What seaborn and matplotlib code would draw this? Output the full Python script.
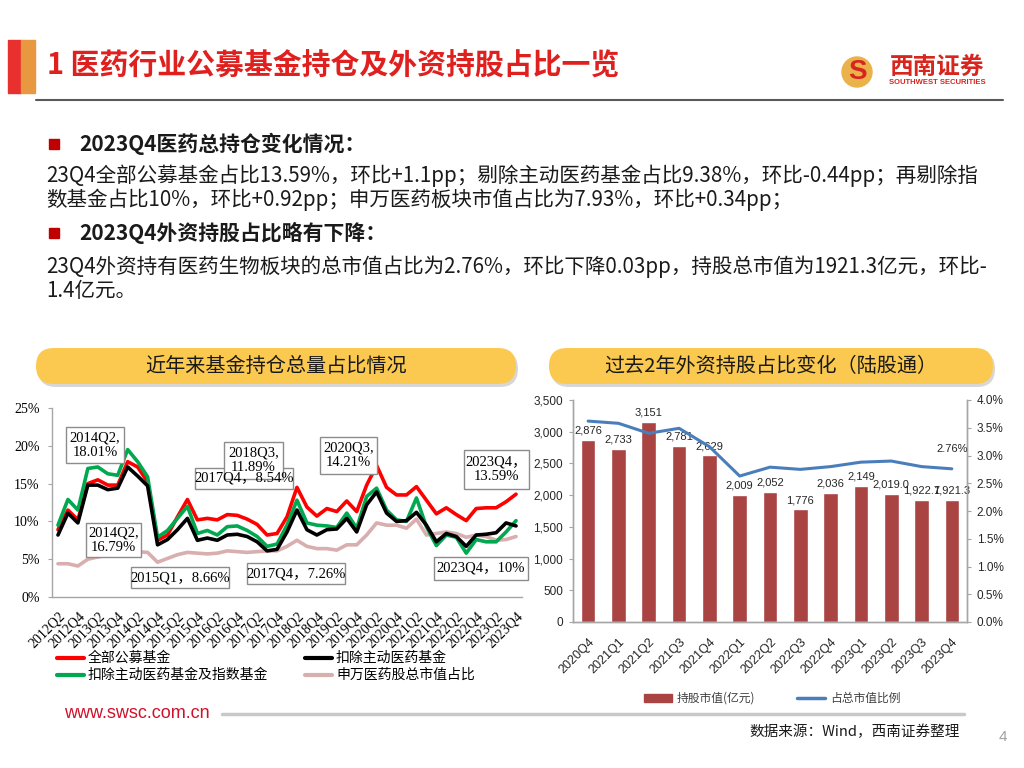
import matplotlib
matplotlib.use('Agg')
import pandas as pd
import matplotlib.pyplot as plt
import seaborn as sns
from matplotlib.patches import Rectangle, FancyBboxPatch, Circle
from matplotlib.ticker import FuncFormatter, MultipleLocator

# ---- left chart: share of pharma holdings (%) ----
quarters = [f'{y}Q{q}' for y in range(2012, 2024) for q in range(1, 5)][1:]  # 2012Q2 .. 2023Q4
all_funds = [8.9, 11.5, 10.2, 15.0, 15.5, 14.8, 14.8, 17.9, 17.2, 15.2,
             7.5, 8.2, 10.6, 12.9, 10.2, 10.4, 10.2, 10.9, 10.8, 10.3,
             9.6, 8.2, 8.4, 10.6, 14.5, 11.9, 10.7, 11.7, 11.3, 12.7,
             11.3, 14.8, 17.4, 14.5, 13.5, 13.5, 14.6, 12.8, 11.0, 11.8,
             10.9, 10.1, 11.7, 11.8, 11.8, 12.6, 13.6]
ex_active = [8.2, 11.1, 9.8, 14.8, 14.8, 14.2, 14.4, 17.2, 16.0, 14.7,
             6.9, 7.6, 8.9, 10.4, 7.5, 7.8, 7.5, 8.2, 8.3, 8.0,
             7.3, 6.1, 6.3, 8.6, 11.5, 8.9, 8.2, 8.9, 9.0, 10.4,
             8.6, 12.2, 13.9, 11.1, 10.0, 10.1, 11.2, 9.5, 7.3, 8.4,
             8.0, 6.7, 8.2, 8.3, 8.5, 9.8, 9.4]
ex_active_index = [9.5, 12.9, 11.5, 17.0, 17.2, 16.3, 16.1, 19.5, 17.9, 15.9,
                   7.9, 8.8, 10.4, 12.0, 8.4, 8.8, 8.2, 9.3, 9.4, 8.8,
                   8.0, 6.7, 7.0, 9.5, 12.8, 9.8, 9.5, 9.4, 9.2, 11.1,
                   9.1, 13.3, 14.4, 11.5, 10.2, 10.0, 13.1, 9.3, 6.8, 8.2,
                   7.9, 5.8, 7.6, 7.3, 7.3, 8.6, 10.1]
sw_pharma = [4.4, 4.4, 4.1, 5.0, 5.3, 5.5, 5.7, 6.0, 6.0, 5.9,
             4.6, 5.1, 5.6, 5.9, 5.8, 5.7, 5.8, 6.1, 6.0, 5.9,
             6.0, 6.1, 6.1, 6.7, 7.5, 6.7, 6.4, 6.4, 6.2, 6.9,
             6.9, 8.2, 9.8, 9.5, 9.5, 9.1, 10.3, 8.2, 8.4, 8.6,
             8.4, 7.9, 8.2, 8.0, 7.5, 7.6, 8.0]
series_names = ['全部公募基金', '扣除主动医药基金', '扣除主动医药基金及指数基金', '申万医药股总市值占比']

# ---- right chart: northbound holdings ----
fx_quarters = ['2020Q4', '2021Q1', '2021Q2', '2021Q3', '2021Q4', '2022Q1', '2022Q2',
               '2022Q3', '2022Q4', '2023Q1', '2023Q2', '2023Q3', '2023Q4']
fx_value = [2876, 2733, 3151, 2781, 2629, 2009, 2052, 1776, 2036, 2149, 2019.0, 1922.7, 1921.3]
fx_value_text = ['2,876', '2,733', '3,151', '2,781', '2,629', '2,009', '2,052',
                 '1,776', '2,036', '2,149', '2,019.0', '1,922.7', '1,921.3']
fx_ratio = [3.62, 3.58, 3.40, 3.49, 3.16, 2.63, 2.79, 2.75, 2.80, 2.88, 2.90, 2.80, 2.76]

sns.set_theme(style='white')
plt.rcParams['font.family'] = ['Noto Sans CJK SC', 'DejaVu Sans']
plt.rcParams['axes.unicode_minus'] = False

SERIF = ['Liberation Serif', 'Noto Sans CJK SC']
SANS = ['Liberation Sans', 'Noto Sans CJK SC']
W, H = 1024, 768
RED = '#ff0000'
GREEN = '#00a850'
PINK = '#d8aeae'
BAR = '#a94442'
BLUE = '#4a7ebb'
GRID = '#a6a6a6'

fig = plt.figure(figsize=(10.24, 7.68), dpi=100)


def box(l, t, r, b):
    # pixel box -> figure fraction
    return [l / W, 1 - b / H, (r - l) / W, (b - t) / H]


# left chart
ax1 = fig.add_axes(box(52, 408, 522, 597))
n = len(quarters)
df = pd.DataFrame({
    'idx': list(range(n)) * 4,
    'value': sw_pharma + all_funds + ex_active_index + ex_active,
    'series': [series_names[3]] * n + [series_names[0]] * n + [series_names[2]] * n + [series_names[1]] * n,
})
palette = {series_names[0]: RED, series_names[1]: 'black',
           series_names[2]: GREEN, series_names[3]: PINK}
sns.lineplot(data=df, x='idx', y='value', hue='series',
             hue_order=[series_names[3], series_names[0], series_names[2], series_names[1]],
             palette=palette, linewidth=2.6, legend=False, ax=ax1,
             solid_joinstyle='round', solid_capstyle='round')
ax1.set_xlim(-0.6, n - 0.4)
ax1.set_ylim(0, 25)
ax1.yaxis.set_major_locator(MultipleLocator(5))
ax1.yaxis.set_major_formatter(FuncFormatter(lambda v, p: f'{v:.0f}%'))
ax1.set_xticks(range(0, n, 2))
ax1.set_xticklabels(quarters[::2], rotation=45, ha='right', rotation_mode='anchor')
ax1.set_xlabel('')
ax1.set_ylabel('')
for s in ['top', 'right']:
    ax1.spines[s].set_visible(False)
for s in ['left', 'bottom']:
    ax1.spines[s].set_color(GRID)
    ax1.spines[s].set_linewidth(1)
ax1.tick_params(axis='y', left=True, length=3, width=0.8, color=GRID, pad=6)
ax1.tick_params(axis='x', bottom=False, pad=3)
for lab in ax1.get_xticklabels() + ax1.get_yticklabels():
    lab.set_fontfamily(SERIF)
    lab.set_fontsize(10)
    lab.set_color('black')

# right chart
ax2 = fig.add_axes(box(573, 400, 967, 622))
sns.barplot(x=fx_quarters, y=fx_value, color=BAR, width=0.48, saturation=1,
            errorbar=None, ax=ax2)
ax2.bar_label(ax2.containers[0], labels=fx_value_text, padding=3,
              fontsize=8, family=SANS, color='#262626')
ax2.set_ylim(0, 3500)
ax2.yaxis.set_major_locator(MultipleLocator(500))
ax2.yaxis.set_major_formatter(FuncFormatter(lambda v, p: f'{v:,.0f}'))
ax3 = ax2.twinx()
sns.lineplot(x=list(range(len(fx_ratio))), y=fx_ratio, color=BLUE, linewidth=2.2, ax=ax3)
ax3.set_ylim(0, 4)
ax3.yaxis.set_major_locator(MultipleLocator(0.5))
ax3.yaxis.set_major_formatter(FuncFormatter(lambda v, p: f'{v:.1f}%'))
ax3.annotate(f'{fx_ratio[-1]:.2f}%', (len(fx_ratio) - 1, fx_ratio[-1]), xytext=(0, 14),
             textcoords='offset points', ha='center', va='center', fontsize=8,
             family=SANS, color='#262626')
ax2.set_xlim(-0.5, len(fx_quarters) - 0.5)
ax2.set_xticks(range(len(fx_quarters)))
ax2.set_xticklabels(fx_quarters, rotation=45, ha='right', rotation_mode='anchor')
for a in (ax2, ax3):
    a.set_xlabel('')
    a.set_ylabel('')
    a.spines['top'].set_visible(False)
    for s in ['left', 'right', 'bottom']:
        a.spines[s].set_color(GRID)
        a.spines[s].set_linewidth(1)
ax2.tick_params(axis='y', left=True, length=3, width=0.8, color=GRID, pad=4)
ax2.tick_params(axis='x', bottom=False, pad=4)
ax3.tick_params(axis='y', right=True, length=3, width=0.8, color=GRID, pad=4)
for lab in ax2.get_xticklabels() + ax2.get_yticklabels() + ax3.get_yticklabels():
    lab.set_fontfamily(SANS)
    lab.set_fontsize(8.5)
    lab.set_color('#262626')
for lab in ax2.get_xticklabels():
    lab.set_fontsize(9)

# overlay in pixel coordinates for the slide decorations
ov = fig.add_axes([0, 0, 1, 1], zorder=5)
ov.set_xlim(0, W)
ov.set_ylim(H, 0)
ov.axis('off')
ov.patch.set_visible(False)

# header
ov.add_patch(Rectangle((8, 40), 13, 53, color='#e8302e'))
ov.add_patch(Rectangle((21, 40), 14, 53, color='#e8983e'))
ov.text(47, 66, '1 医药行业公募基金持仓及外资持股占比一览', fontsize=20.8, weight='bold',
        color='#e0201e', va='center', ha='left')
ov.plot([36, 1003], [100, 100], color='#595959', lw=1.5)
ov.add_patch(Circle((857, 72), 15, color='#e9b24a'))
ov.text(857, 72, 'S', fontsize=20, weight='bold', color='#d7261e', ha='center', va='center',
        family=SANS)
ov.text(937, 67, '西南证券', fontsize=17, weight='bold', color='#d7261e', ha='center', va='center')
ov.text(937, 83, 'SOUTHWEST SECURITIES', fontsize=5.5, weight='bold', color='#d7261e',
        ha='center', va='center', family=SANS)

# text block
BODY = 14.8
ov.add_patch(Rectangle((49, 139), 10, 10, color='#c00000'))
ov.text(79, 144, '2023Q4医药总持仓变化情况：', fontsize=15, weight='bold', va='center', color='#1a1a1a')
ov.text(46, 176, '23Q4全部公募基金占比13.59%，环比+1.1pp；剔除主动医药基金占比9.38%，环比-0.44pp；再剔除指',
        fontsize=BODY, va='center', color='#1a1a1a')
ov.text(46, 200, '数基金占比10%，环比+0.92pp；申万医药板块市值占比为7.93%，环比+0.34pp；',
        fontsize=BODY, va='center', color='#1a1a1a')
ov.add_patch(Rectangle((49, 228), 10, 10, color='#c00000'))
ov.text(79, 233, '2023Q4外资持股占比略有下降：', fontsize=15, weight='bold', va='center', color='#1a1a1a')
ov.text(46, 267, '23Q4外资持有医药生物板块的总市值占比为2.76%，环比下降0.03pp，持股总市值为1921.3亿元，环比-',
        fontsize=BODY, va='center', color='#1a1a1a')
ov.text(46, 291, '1.4亿元。', fontsize=BODY, va='center', color='#1a1a1a')

# chart title pills
for l, r, title in [(36, 516, '近年来基金持仓总量占比情况'), (549, 993, '过去2年外资持股占比变化（陆股通）')]:
    ov.add_patch(FancyBboxPatch((l + 2, 351), r - l, 36, boxstyle='round,pad=0,rounding_size=18',
                                fc='#bdbdbd', ec='none', alpha=0.6))
    ov.add_patch(FancyBboxPatch((l, 348), r - l, 36, boxstyle='round,pad=0,rounding_size=18',
                                fc='#fbc94f', ec='none'))
    ov.text((l + r) / 2, 366, title, fontsize=14.5, ha='center', va='center', color='#1a1a1a')


# annotation boxes on the left chart
def note(l, t, r, b, text):
    ov.add_patch(Rectangle((l, t), r - l, b - t, fc='white', ec='#8c8c8c', lw=1))
    ov.text((l + r) / 2, (t + b) / 2, text, ha='center', va='center', family=SERIF,
            fontsize=10.5, linespacing=1.15, color='black')


note(66, 427, 124, 463, '2014Q2,\n18.01%')
note(86, 523, 141, 557, '2014Q2,\n16.79%')
note(131, 567, 229, 588, '2015Q1，8.66%')
note(195, 468, 293, 489, '2017Q4，8.54%')
note(224, 442, 283, 479, '2018Q3,\n11.89%')
note(247, 563, 345, 584, '2017Q4，7.26%')
note(320, 437, 377, 474, '2020Q3,\n14.21%')
note(464, 450, 529, 489, '2023Q4，\n13.59%')
note(434, 557, 528, 580, '2023Q4，10%')

# left legend
for x0, y0, col, name in [(57, 658, RED, series_names[0]), (305, 658, 'black', series_names[1]),
                          (57, 675, GREEN, series_names[2]), (305, 675, PINK, series_names[3])]:
    ov.plot([x0, x0 + 27], [y0, y0], color=col, lw=3, solid_capstyle='round')
    ov.text(x0 + 31, y0, name, fontsize=10, va='center', color='black')

# right legend
ov.add_patch(Rectangle((644, 694), 28, 8, color=BAR))
ov.text(677, 698, '持股市值(亿元)', fontsize=8.5, va='center', color='#404040')
ov.plot([797, 825], [698, 698], color=BLUE, lw=2.5)
ov.text(830, 698, '占总市值比例', fontsize=8.5, va='center', color='#404040')

# footer
ov.text(64, 714, 'www.swsc.com.cn', color='#d0112b', fontsize=13, family=['Liberation Sans'], va='center')
ov.plot([222, 964], [714, 714], color='#c8c8c8', lw=2.5)
ov.text(960, 732, '数据来源：Wind，西南证券整理', ha='right', va='center', fontsize=10.5,
        style='italic', color='#1a1a1a')
ov.text(1003, 737, '4', color='#a0a0a0', fontsize=11, ha='center', va='center', family=SANS)

fig.savefig('out.png', dpi=100)
